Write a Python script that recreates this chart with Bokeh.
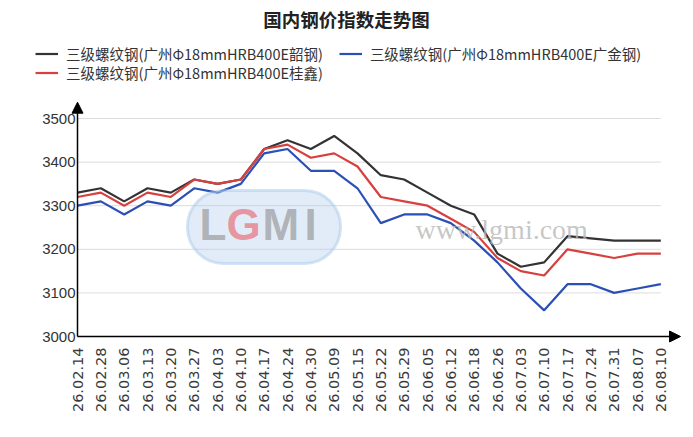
import math
from bokeh.plotting import figure
from bokeh.layouts import column
from bokeh.models import (Range1d, FixedTicker, Legend, LegendItem, Label,
                          Arrow, NormalHead, BoxAnnotation)
from bokeh.embed import file_html
from bokeh.resources import INLINE

title_text = "国内钢价指数走势图"
dates = ["26.02.14", "26.02.28", "26.03.06", "26.03.13", "26.03.20", "26.03.27",
         "26.04.03", "26.04.10", "26.04.17", "26.04.24", "26.04.30", "26.05.09",
         "26.05.15", "26.05.22", "26.05.29", "26.06.05", "26.06.12", "26.06.18",
         "26.06.26", "26.07.03", "26.07.10", "26.07.17", "26.07.24", "26.07.31",
         "26.08.07", "26.08.10"]
names = ["三级螺纹钢(广州Φ18mmHRB400E韶钢)",
         "三级螺纹钢(广州Φ18mmHRB400E广金钢)",
         "三级螺纹钢(广州Φ18mmHRB400E桂鑫)"]
shaogang = [3330, 3340, 3310, 3340, 3330, 3360, 3350, 3360, 3430, 3450, 3430, 3460,
            3420, 3370, 3360, 3330, 3300, 3280, 3190, 3160, 3170, 3230, 3225, 3220,
            3220, 3220]
guangjin = [3300, 3310, 3280, 3310, 3300, 3340, 3330, 3350, 3420, 3430, 3380, 3380,
            3340, 3260, 3280, 3280, 3260, 3220, 3170, 3110, 3060, 3120, 3120, 3100,
            3110, 3120]
guixin = [3320, 3330, 3300, 3330, 3320, 3360, 3350, 3360, 3430, 3440, 3410, 3420,
          3390, 3320, 3310, 3300, 3270, 3240, 3180, 3150, 3140, 3200, 3190, 3180,
          3190, 3190]
y_ticks = [3000, 3100, 3200, 3300, 3400, 3500]

colors = ["#333333", "#2a4fb5", "#d8403f"]
FONT_CJK = "Noto Sans CJK SC"
FONT_NUM = "Liberation Sans"

xs = list(range(len(dates)))
W = 693
HEAD_H = 95
MAIN_H = 437 - HEAD_H

# ---------------- header (title + legend) ----------------
head = figure(width=W, height=HEAD_H, output_backend="svg", toolbar_location=None,
              x_range=Range1d(0, W), y_range=Range1d(0, HEAD_H),
              x_axis_type=None, y_axis_type=None,
              min_border_left=0, min_border_right=0, min_border_top=0,
              min_border_bottom=0)
head.outline_line_color = None
head.xgrid.visible = False
head.ygrid.visible = False

head.add_layout(Label(x=346, y=HEAD_H - 18, x_units="screen", y_units="screen",
                      text=title_text, text_font=FONT_CJK, text_font_size="18.5px",
                      text_font_style="bold", text_color="#222222",
                      text_align="center", text_baseline="middle"))

# legend keys (kept outside the header's visible range)
key = [head.line(x=[-20, -10], y=[-20, -20], line_color=c, line_width=2.2)
       for c in colors]


def make_legend(items, loc):
    return Legend(items=items, orientation="horizontal", location=loc,
                  padding=0, margin=0, spacing=16, glyph_width=23, glyph_height=17,
                  label_height=17, label_standoff=8, border_line_color=None,
                  background_fill_alpha=0, label_text_font=FONT_CJK,
                  label_text_font_size="14.5px", label_text_color="#333333")


leg1 = make_legend([LegendItem(label=names[0], renderers=[key[0]]),
                    LegendItem(label=names[1], renderers=[key[1]])], (35, 31))
leg2 = make_legend([LegendItem(label=names[2], renderers=[key[2]])], (35, 12))
head.add_layout(leg1, "center")
head.add_layout(leg2, "center")

# ---------------- main chart ----------------
px_x = 70 / 3.0          # pixels per category step
px_y = 0.436             # pixels per value unit
x0_page, y0_page = 77, 336 - HEAD_H   # position of (0, 3000) inside main figure
frame_l, frame_r = 69, 686
frame_t, frame_b = 0, 344 - HEAD_H

x_start = (frame_l - x0_page) / px_x
x_end = (frame_r - x0_page) / px_x
y_start = y_ticks[0] - (frame_b - y0_page) / px_y
y_end = y_ticks[0] + (y0_page - frame_t) / px_y
x_tip = (680 - x0_page) / px_x
y_tip = y_ticks[0] + (y0_page - (101.7 - HEAD_H)) / px_y

p = figure(width=W, height=MAIN_H, output_backend="svg", toolbar_location=None,
           x_range=Range1d(x_start, x_end), y_range=Range1d(y_start, y_end),
           min_border_left=frame_l, min_border_right=W - frame_r,
           min_border_top=frame_t, min_border_bottom=MAIN_H - frame_b)
p.outline_line_color = None
p.xgrid.visible = False
p.ygrid.visible = False

for fig in (head, p):
    try:
        fig.frame_align = False
    except Exception:
        pass

# watermark (LGMI logo + site)
fb = frame_b + HEAD_H  # page y of frame bottom
p.add_layout(BoxAnnotation(left=187 - frame_l, right=340 - frame_l,
                           top=fb - 190, bottom=fb - 263,
                           left_units="screen", right_units="screen",
                           top_units="screen", bottom_units="screen",
                           fill_color="#a9c9ea", fill_alpha=0.35,
                           line_color="#a9c9ea", line_alpha=0.5, line_width=3,
                           border_radius=36))
for ch, px, col in [("L", 199, "#9a9a9a"), ("G", 226, "#e8707a"),
                    ("M", 262, "#9a9a9a"), ("I", 304, "#9a9a9a")]:
    p.add_layout(Label(x=px - frame_l, y=fb - 224, x_units="screen", y_units="screen",
                       text=ch, text_font=FONT_NUM, text_font_size="44px",
                       text_font_style="bold", text_color=col, text_alpha=0.7,
                       text_align="left", text_baseline="middle"))
p.add_layout(Label(x=415 - frame_l, y=fb - 229, x_units="screen", y_units="screen",
                   text="www.lgmi.com", text_font="Liberation Serif",
                   text_font_size="28px", text_color="#b8b8b8", text_alpha=0.8,
                   text_baseline="middle"))

# gridlines
p.segment(x0=xs[0], x1=xs[-1], y0=y_ticks[1:], y1=y_ticks[1:],
          line_color="#dcdcdc", line_width=1)

r_black = p.line(xs, shaogang, line_color=colors[0], line_width=2.2)
r_blue = p.line(xs, guangjin, line_color=colors[1], line_width=2.2)
r_red = p.line(xs, guixin, line_color=colors[2], line_width=2.2)

# axes (labels only; axis lines drawn as arrows)
p.xaxis.ticker = FixedTicker(ticks=xs)
p.xaxis.major_label_overrides = {i: d for i, d in zip(xs, dates)}
p.xaxis.major_label_orientation = math.pi / 2
p.xaxis.major_label_text_font = "DejaVu Sans"
p.xaxis.major_label_text_font_size = "14.5px"
p.xaxis.major_label_text_color = "#3a3a3a"
p.xaxis.major_tick_in = 0
p.xaxis.major_tick_out = 0
p.xaxis.major_tick_line_color = None
p.xaxis.minor_tick_line_color = None
p.xaxis.major_label_standoff = 3
p.xaxis.axis_line_color = None

p.yaxis.ticker = FixedTicker(ticks=y_ticks)
p.yaxis.major_label_text_font = FONT_NUM
p.yaxis.major_label_text_font_size = "15px"
p.yaxis.major_label_text_color = "#333333"
p.yaxis.major_tick_in = 0
p.yaxis.major_tick_out = 0
p.yaxis.major_tick_line_color = None
p.yaxis.minor_tick_line_color = None
p.yaxis.major_label_standoff = -6
p.yaxis.axis_line_color = None

# axis lines with arrow heads
p.add_layout(Arrow(end=NormalHead(size=11, fill_color="black", line_color="black"),
                   x_start=0, y_start=y_ticks[0], x_end=0, y_end=y_tip,
                   line_color="black", line_width=1.5))
p.add_layout(Arrow(end=NormalHead(size=11, fill_color="black", line_color="black"),
                   x_start=0, y_start=y_ticks[0], x_end=x_tip, y_end=y_ticks[0],
                   line_color="black", line_width=1.5))

layout = column(head, p, spacing=0)
open("out.html", "w").write(file_html(layout, INLINE))
